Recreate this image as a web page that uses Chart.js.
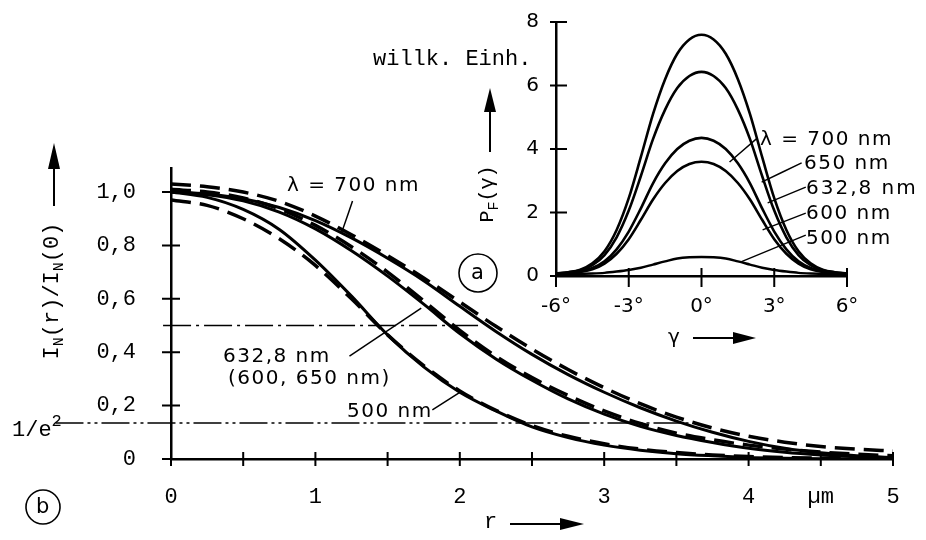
<!DOCTYPE html>
<html>
<head>
<meta charset="utf-8">
<script src="https://cdn.jsdelivr.net/npm/chart.js@4.4.1/dist/chart.umd.min.js"></script>
<style>
  html, body { margin: 0; padding: 0; background: #fff; }
  #wrap { position: relative; width: 926px; height: 540px; overflow: hidden; }
  #main { position: absolute; left: 0; top: 0; }
  #inset { position: absolute; left: 500px; top: 0; }
  #deco { position: absolute; left: 0; top: 0; pointer-events: none; }
  .t { position: absolute; white-space: nowrap; color: #000; line-height: 1; }
  .mono { font-family: "Liberation Mono", "DejaVu Sans Mono", monospace; font-size: 22px; }
  .sans { font-family: "DejaVu Sans", sans-serif; font-size: 20px; letter-spacing: 1.5px; }
  .mono sub { font-size: 15px; vertical-align: -5px; }
  .rot { transform: translate(-50%, -50%) rotate(-90deg); }
</style>
</head>
<body>
<div id="wrap">
  <canvas id="main" width="926" height="540"></canvas>
  <canvas id="inset" width="426" height="350"></canvas>
  <svg id="deco" width="926" height="540">
    <g stroke="#000" stroke-width="2" fill="none">
      <line x1="54" y1="206" x2="54" y2="166"/>
      <line x1="510" y1="524" x2="562" y2="524"/>
      <line x1="490" y1="152" x2="490" y2="110"/>
      <line x1="693" y1="338" x2="735" y2="338"/>
      <circle cx="478" cy="273" r="19" stroke-width="1.6"/>
      <circle cx="43" cy="507" r="17" stroke-width="1.6"/>
    </g>
    <g fill="#000">
      <polygon points="54,143 48,169 60,169"/>
      <polygon points="584,524 560,518 560,530"/>
      <polygon points="490,88 484,112 496,112"/>
      <polygon points="756,338 733,332 733,344"/>
    </g>
  </svg>

  <div class="t mono rot" style="left:54px; top:291px;">I<sub>N</sub>(r)/I<sub>N</sub>(0)</div>
  <div class="t mono" style="left:484px; top:512px;">r</div>
  <div class="t mono" style="left:12px; top:420px;">1/e<span style="font-size:17px; position:relative; top:-10px;">2</span></div>
  <div class="t sans" style="left:287px; top:174px;">λ = 700 nm</div>
  <div class="t sans" style="left:223px; top:345px;">632,8 nm</div>
  <div class="t sans" style="left:228px; top:367px;">(600, 650 nm)</div>
  <div class="t sans" style="left:347px; top:400px;">500 nm</div>
  <div class="t sans" style="left:36px; top:496px; font-size:21px; letter-spacing:0;">b</div>
  <div class="t sans" style="left:471px; top:262px; font-size:21px; letter-spacing:0;">a</div>

  <div class="t mono" style="left:373px; top:49px;">willk. Einh.</div>
  <div class="t mono rot" style="left:490px; top:194px; font-size:20px;">P<sub>F</sub>(γ)</div>
  <div class="t sans" style="left:668px; top:326px; letter-spacing:0;">γ</div>
  <div class="t sans" style="left:760px; top:128px;">λ = 700 nm</div>
  <div class="t sans" style="left:804px; top:152px;">650 nm</div>
  <div class="t sans" style="left:806px; top:177px; letter-spacing:2px;">632,8 nm</div>
  <div class="t sans" style="left:806px; top:202px;">600 nm</div>
  <div class="t sans" style="left:806px; top:227px;">500 nm</div>
</div>

<script>
// (b) normalised intensity I_N(r)/I_N(0) against r in µm
const rVals = [0, 0.25, 0.5, 0.75, 1, 1.25, 1.5, 1.75, 2, 2.25, 2.5, 2.75, 3, 3.25, 3.5, 3.75, 4, 4.25, 4.5, 4.75, 5];
const i700 = [1.0, 0.993, 0.975, 0.942, 0.893, 0.828, 0.752, 0.668, 0.572, 0.478, 0.392, 0.316, 0.25, 0.192, 0.142, 0.1, 0.066, 0.04, 0.023, 0.012, 0.006];
const g700 = [1.03, 1.02, 1.0, 0.965, 0.91, 0.84, 0.762, 0.678, 0.588, 0.497, 0.412, 0.335, 0.267, 0.207, 0.157, 0.116, 0.085, 0.063, 0.047, 0.037, 0.03];
const i632 = [1.0, 0.99, 0.967, 0.925, 0.862, 0.78, 0.685, 0.58, 0.47, 0.375, 0.295, 0.225, 0.168, 0.122, 0.088, 0.062, 0.04, 0.025, 0.015, 0.008, 0.004];
const g632 = [1.01, 1.0, 0.978, 0.937, 0.875, 0.795, 0.7, 0.592, 0.482, 0.385, 0.305, 0.238, 0.18, 0.133, 0.097, 0.072, 0.052, 0.037, 0.026, 0.018, 0.012];
const i500 = [1.0, 0.98, 0.935, 0.86, 0.745, 0.61, 0.465, 0.345, 0.25, 0.18, 0.12, 0.08, 0.052, 0.033, 0.02, 0.012, 0.006, 0.003, 0.001, 0, 0];
const g500 = [0.97, 0.95, 0.9, 0.825, 0.725, 0.6, 0.465, 0.35, 0.255, 0.182, 0.125, 0.085, 0.057, 0.037, 0.024, 0.015, 0.009, 0.005, 0.003, 0.002, 0.001];
const rLabelAt = [0, 1, 2, 3, 4, 4.5, 5];
const rLabelText = ['0', '1', '2', '3', '4', 'µm', '5'];
const halfLevel = 0.5;
const e2Level = 0.135;

// (a) P_F(gamma) in arbitrary units against gamma in degrees
const gVals = [-6, -5.5, -5, -4.5, -4, -3.5, -3, -2.5, -2, -1.5, -1, -0.5, 0, 0.5, 1, 1.5, 2, 2.5, 3, 3.5, 4, 4.5, 5, 5.5, 6];
const p700 = [0.08, 0.12, 0.2, 0.4, 0.78, 1.45, 2.45, 3.75, 5.1, 6.2, 7.0, 7.45, 7.6, 7.45, 7.0, 6.2, 5.1, 3.75, 2.45, 1.45, 0.78, 0.4, 0.2, 0.12, 0.08];
const p650 = [0.08, 0.11, 0.18, 0.34, 0.66, 1.22, 2.06, 3.15, 4.31, 5.24, 5.92, 6.3, 6.43, 6.3, 5.92, 5.24, 4.31, 3.15, 2.06, 1.22, 0.66, 0.34, 0.18, 0.11, 0.08];
const p632 = [0.08, 0.1, 0.14, 0.25, 0.46, 0.84, 1.4, 2.13, 2.92, 3.55, 4.0, 4.26, 4.35, 4.26, 4.0, 3.55, 2.92, 2.13, 1.4, 0.84, 0.46, 0.25, 0.14, 0.1, 0.08];
const p600 = [0.07, 0.09, 0.13, 0.21, 0.39, 0.7, 1.16, 1.77, 2.41, 2.93, 3.31, 3.53, 3.6, 3.53, 3.31, 2.93, 2.41, 1.77, 1.16, 0.7, 0.39, 0.21, 0.13, 0.09, 0.07];
const p500 = [0.05, 0.06, 0.07, 0.08, 0.1, 0.14, 0.19, 0.26, 0.36, 0.46, 0.55, 0.59, 0.6, 0.59, 0.55, 0.46, 0.36, 0.26, 0.19, 0.14, 0.1, 0.08, 0.07, 0.06, 0.05];

const pts = (xs, ys) => xs.map((x, i) => ({ x: x, y: ys[i] }));
const seg = (x1, y1, x2, y2) => [{ x: x1, y: y1 }, { x: x2, y: y2 }];
const MONO = '"Liberation Mono", "DejaVu Sans Mono", monospace';
const SANS = '"DejaVu Sans", sans-serif';

// short tick marks that cross the axis lines
const crossTicks = {
  id: 'crossTicks',
  afterDraw(chart, args, opts) {
    const ctx = chart.ctx, a = chart.chartArea;
    const xs = chart.scales.x, ys = chart.scales.y;
    ctx.save();
    ctx.strokeStyle = '#000';
    ctx.lineWidth = opts.width;
    ctx.beginPath();
    xs.ticks.forEach(t => {
      const px = xs.getPixelForValue(t.value);
      ctx.moveTo(px, a.bottom - opts.x[0]);
      ctx.lineTo(px, a.bottom + opts.x[1]);
    });
    ys.ticks.forEach(t => {
      const py = ys.getPixelForValue(t.value);
      ctx.moveTo(a.left - opts.y[0], py);
      ctx.lineTo(a.left + opts.y[1], py);
    });
    ctx.stroke();
    ctx.restore();
  }
};

function line(data, width, dash, extra) {
  return Object.assign({
    data: data, borderColor: '#000', borderWidth: width, borderDash: dash || [],
    pointRadius: 0, fill: false, cubicInterpolationMode: 'monotone'
  }, extra || {});
}

new Chart(document.getElementById('main'), {
  type: 'line',
  data: {
    datasets: [
      line(pts(rVals, g700), 3.5, [20, 9]),
      line(pts(rVals, i700), 3),
      line(pts(rVals, g632), 3.5, [20, 9]),
      line(pts(rVals, i632), 3),
      line(pts(rVals, g500), 3.5, [20, 9]),
      line(pts(rVals, i500), 3),
      line(seg(-0.055, halfLevel, 2.13, halfLevel), 1.6, [28, 5, 3, 5], { clip: false }),
      line(seg(-0.8, e2Level, 3.6, e2Level), 1.6, [28, 4, 3, 4, 3, 4], { clip: false }),
      line(seg(1.257, 0.966, 1.181, 0.847), 1.5, [], { clip: false }),
      line(seg(1.236, 0.385, 1.733, 0.565), 1.5, [], { clip: false }),
      line(seg(1.81, 0.184, 2.0, 0.25), 1.5, [], { clip: false })
    ]
  },
  options: {
    responsive: false,
    animation: false,
    events: [],
    layout: { padding: { top: 168, right: 33, left: 0, bottom: 0 } },
    plugins: {
      legend: { display: false },
      tooltip: { enabled: false },
      crossTicks: { x: [7, 7], y: [9, 9], width: 2 }
    },
    scales: {
      x: {
        type: 'linear', min: 0, max: 5,
        grid: { display: false },
        border: { display: true, color: '#000', width: 2.5 },
        afterFit: s => { s.height = 81; },
        ticks: {
          stepSize: 0.5, autoSkip: false, maxRotation: 0, includeBounds: false,
          color: '#000', padding: 17, font: { family: MONO, size: 22 },
          callback: v => { const i = rLabelAt.indexOf(v); return i >= 0 ? rLabelText[i] : ''; }
        }
      },
      y: {
        type: 'linear', min: 0, max: 1.09,
        grid: { display: false },
        border: { display: true, color: '#000', width: 2.5 },
        afterFit: s => { s.width = 171; },
        ticks: {
          stepSize: 0.2, includeBounds: false, color: '#000', padding: 27,
          font: { family: MONO, size: 22 },
          callback: v => v === 0 ? '0' : v.toFixed(1).replace('.', ',')
        }
      }
    }
  },
  plugins: [crossTicks]
});

new Chart(document.getElementById('inset'), {
  type: 'line',
  data: {
    datasets: [
      line(pts(gVals, p700), 2.6),
      line(pts(gVals, p650), 2.6),
      line(pts(gVals, p632), 2.6),
      line(pts(gVals, p600), 2.6),
      line(pts(gVals, p500), 2.4),
      line(seg(2.31, 4.35, 1.16, 3.59), 1.4),
      line(seg(4.13, 3.56, 2.48, 2.96), 1.4),
      line(seg(4.3, 2.8, 2.73, 2.3), 1.4),
      line(seg(4.3, 1.98, 2.52, 1.45), 1.4),
      line(seg(4.3, 1.29, 1.6, 0.44), 1.4)
    ]
  },
  options: {
    responsive: false,
    animation: false,
    events: [],
    layout: { padding: { top: 22, right: 79, left: 0, bottom: 0 } },
    plugins: {
      legend: { display: false },
      tooltip: { enabled: false },
      crossTicks: { x: [8, 11], y: [6, 11], width: 2 }
    },
    scales: {
      x: {
        type: 'linear', min: -6, max: 6,
        grid: { display: false },
        border: { display: true, color: '#000', width: 2.5 },
        afterFit: s => { s.height = 74; },
        ticks: {
          stepSize: 3, maxRotation: 0, color: '#000', padding: 11,
          font: { family: SANS, size: 20 },
          callback: v => (v < 0 ? '-' + Math.abs(v) : String(v)) + '°'
        }
      },
      y: {
        type: 'linear', min: 0, max: 8,
        grid: { display: false },
        border: { display: true, color: '#000', width: 2.5 },
        afterFit: s => { s.width = 56; },
        ticks: {
          stepSize: 2, color: '#000', padding: 9,
          font: { family: SANS, size: 20 }
        }
      }
    }
  },
  plugins: [crossTicks]
});
</script>
</body>
</html>
